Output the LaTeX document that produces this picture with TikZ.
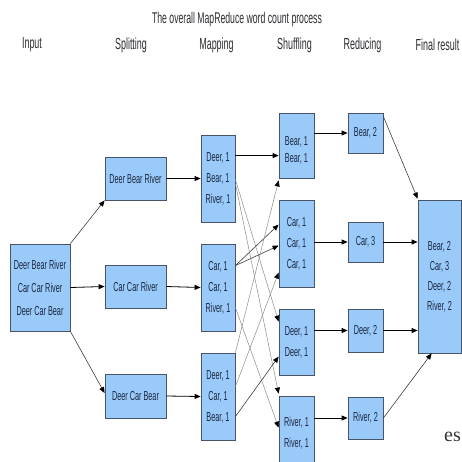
\documentclass[tikz,border=0pt]{standalone}
\usepackage{fontspec}
\setmainfont{Liberation Sans}[FakeStretch=0.56]
\newfontfamily\esfont{Liberation Serif}
\usetikzlibrary{arrows.meta,calc}
\definecolor{boxblue}{RGB}{153,202,250}
\definecolor{boxedge}{RGB}{72,84,104}
\definecolor{boxtext}{RGB}{28,38,62}
\definecolor{headtext}{RGB}{45,45,50}
\definecolor{thinline}{RGB}{140,140,140}
\tikzset{
  box/.style={rectangle, fill=boxblue, draw=boxedge, line width=0.8pt, inner sep=0pt,
    align=center, text=boxtext, font=\fontsize{13}{21}\selectfont},
  head/.style={text=headtext, font=\fontsize{16}{18}\selectfont, inner sep=0pt},
  tip/.style={-{Triangle[length=6pt,width=5pt,color=black]}},
  main/.style={tip, draw=black, line width=0.8pt},
  cross/.style={tip, draw=thinline, line width=0.5pt},
  crossdark/.style={tip, draw=black!75, line width=0.6pt},
}
\begin{document}
\begin{tikzpicture}[x=1pt,y=-1pt]
\useasboundingbox (0,0) rectangle (462,461);
\clip (0,0) rectangle (462,461);
\fill[white] (0,0) rectangle (462,461);

% title and headings
\node[head, font=\fontsize{15.5}{17}\selectfont] (title) at (237,19) {The overall MapReduce word count process};
\node[head] (hin) at (32,45) {Input};
\node[head] (hsp) at (131,45) {Splitting};
\node[head] (hma) at (216.5,45) {Mapping};
\node[head] (hsh) at (294.5,45) {Shuffling};
\node[head] (hre) at (362.5,45) {Reducing};
\node[head] (hfi) at (437.5,45) {Final result};

% input
\node[box, minimum width=60pt, minimum height=87pt, font=\fontsize{13}{23}\selectfont] (in) at (40,287.5)
  {Deer Bear River\\Car Car River\\Deer Car Bear};

% splitting
\node[box, minimum width=61pt, minimum height=43pt] (s1) at (135.5,178.5) {Deer Bear River};
\node[box, minimum width=61pt, minimum height=43pt] (s2) at (135.5,286.5) {Car Car River};
\node[box, minimum width=61pt, minimum height=44pt] (s3) at (135.5,396) {Deer Car Bear};

% mapping
\node[box, minimum width=34pt, minimum height=87pt] (m1) at (218,178.5) {Deer, 1\\Bear, 1\\River, 1};
\node[box, minimum width=34pt, minimum height=87pt] (m2) at (218,287.5) {Car, 1\\Car, 1\\River, 1};
\node[box, minimum width=34pt, minimum height=87pt] (m3) at (218,396.5) {Deer, 1\\Car, 1\\Bear, 1};

% shuffling
\node[box, minimum width=35pt, minimum height=65pt, font=\fontsize{13}{17}\selectfont] (sh1) at (296.5,145.5)
  {\raisebox{-5pt}[\height][\depth]{\begin{tabular}{@{}c@{}}Bear, 1\\Bear, 1\end{tabular}}};
\node[box, minimum width=35pt, minimum height=87pt] (sh2) at (296.5,243.5) {Car, 1\\Car, 1\\Car, 1};
\node[box, minimum width=35pt, minimum height=66pt] (sh3) at (296.5,342) {Deer, 1\\Deer, 1};
\node[box, minimum width=35pt, minimum height=74pt] (sh4) at (296.5,433) {River, 1\\River, 1};

% reducing
\node[box, minimum width=35pt, minimum height=40pt] (r1) at (365.5,133) {Bear, 2};
\node[box, minimum width=35pt, minimum height=40pt] (r2) at (365.5,242) {Car, 3};
\node[box, minimum width=35pt, minimum height=43pt] (r3) at (365.5,330.5) {Deer, 2};
\node[box, minimum width=35pt, minimum height=42pt] (r4) at (365.5,418) {River, 2};

% final
\node[box, minimum width=43pt, minimum height=153pt, font=\fontsize{13}{20}\selectfont] (fin) at (439.5,276.5)
  {Bear, 2\\Car, 3\\Deer, 2\\River, 2};

% stray text
\node[anchor=base west, inner sep=0pt, text=black!80, font=\esfont\fontsize{20}{22}\selectfont] (es) at (444,441) {es};

% input -> splitting
\draw[crossdark] (in.north east) -- (s1.south west);
\draw[main] (in.east) -- (s2.west);
\draw[crossdark] (in.south east) -- ($(s3.west)+(0,-3)$);

% splitting -> mapping
\draw[main] (s1.east) -- (m1.west);
\draw[main] (s2.east) -- (m2.west);
\draw[main] (s3.east) -- (m3.west);

% mapping -> shuffling
\draw[main] ($(m1.north east)+(0,21)$) -- ($(sh1.north west)+(0,43)$);
\draw[cross] ($(m1.north east)+(0,45)$) -- ($(sh3.north west)+(0,13)$);
\draw[cross] ($(m1.north east)+(0,49)$) -- ($(sh4.north west)+(0,-2)$);
\draw[crossdark] ($(m2.north east)+(0,22)$) -- ($(sh2.north west)+(0,25)$);
\draw[crossdark] ($(m2.north east)+(0,22)$) -- ($(sh2.north west)+(0,46)$);
\draw[cross] ($(m2.north east)+(0,64)$) -- ($(sh4.north west)+(0,32)$);
\draw[cross] (m3.north east) -- ($(sh1.south west)+(0,2)$);
\draw[cross] ($(m3.north east)+(0,34)$) -- ($(sh2.north west)+(0,73)$);
\draw[crossdark] ($(m3.north east)+(0,64)$) -- ($(sh3.north west)+(0,48)$);

% shuffling -> reducing
\draw[main] (sh1.east |- r1.west) -- (r1.west);
\draw[main] (sh2.east |- r2.west) -- (r2.west);
\draw[main] (sh3.east |- r3.west) -- (r3.west);
\draw[main] (sh4.east |- r4.west) -- (r4.west);

% reducing -> final
\draw[crossdark] ($(r1.north east)+(0,4)$) -- ($(fin.north west)+(0,-1)$);
\draw[main] (r2.east) -- (r2.east -| fin.west);
\draw[main] (r3.east) -- (r3.east -| fin.west);
\draw[crossdark] (r4.east) -- ($(fin.south west)+(14,0)$);
\end{tikzpicture}
\end{document}
